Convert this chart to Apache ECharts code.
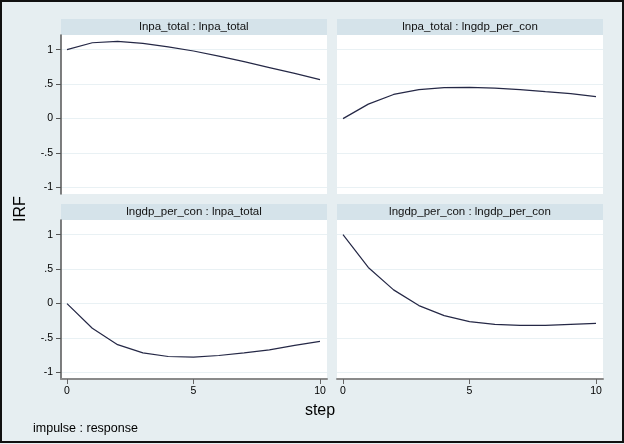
<!DOCTYPE html>
<html>
<head>
<meta charset="utf-8">
<title>IRF</title>
<script src="https://cdn.jsdelivr.net/npm/echarts@6/dist/echarts.min.js"></script>
<style>
	html, body { margin:0 ; padding:0 ; background:#e6eef1 ; }
	#main { width:624px ; height:444px ; }
</style>
</head>
<body>
<div id="main"></div>
<script>
// steps and impulse-response values
var steps = [0, 1, 2, 3, 4, 5, 6, 7, 8, 9, 10] ;
var irfPaPa   = [1.00, 1.10, 1.12, 1.09, 1.04, 0.98, 0.905, 0.825, 0.74, 0.655, 0.565] ;
var irfPaGdp  = [0.00, 0.21, 0.35, 0.42, 0.448, 0.452, 0.443, 0.42, 0.39, 0.362, 0.32] ;
var irfGdpPa  = [0.00, -0.357, -0.595, -0.714, -0.767, -0.776, -0.752, -0.714, -0.671, -0.605, -0.548] ;
var irfGdpGdp = [1.00, 0.524, 0.199, -0.029, -0.175, -0.262, -0.301, -0.316, -0.316, -0.301, -0.286] ;

var panelTitles = ['lnpa_total : lnpa_total', 'lnpa_total : lngdp_per_con',
                   'lngdp_per_con : lnpa_total', 'lngdp_per_con : lngdp_per_con'] ;
var panelValues = [irfPaPa, irfPaGdp, irfGdpPa, irfGdpGdp] ;

var yTickValues = [-1, -0.5, 0, 0.5, 1] ;
var yTickLabels = ['-1', '-.5', '0', '.5', '1'] ;
var xTickValues = [0, 5, 10] ;
var xTickLabels = ['0', '5', '10'] ;

var FONT = '"Liberation Sans", Arial, sans-serif' ;
var LINE_COLOR = '#252846' ;
var STRIP_COLOR = '#d5e3ea' ;
var GRIDLINE_COLOR = '#e9f1f4' ;

// panel boxes: left, top (plot area), strip sits 16px above
var panelLeft = [61, 337, 61, 337] ;
var panelTop  = [35, 35, 220, 220] ;
var PANEL_W = 266 ;
var PANEL_H = 159 ;
var STRIP_H = 16 ;

function pairs(values)
{
	var out = [] ;
	for( var i = 0 ; i < steps.length ; i++ )
	{
		out.push([steps[i], values[i]]) ;
	}
	return out ;
}

function initPage()
{
	var grids = [] ;
	var xAxes = [] ;
	var yAxes = [] ;
	var series = [] ;
	var graphics = [] ;

	for( var i = 0 ; i < 4 ; i++ )
	{
		var isLeft = ( i % 2 == 0 ) ;
		var isBottom = ( i >= 2 ) ;

		grids.push({
			left : panelLeft[i] ,
			top : panelTop[i] ,
			width : PANEL_W ,
			height : PANEL_H ,
			show : true ,
			backgroundColor : '#ffffff' ,
			borderWidth : 0
		}) ;

		xAxes.push({
			type : 'value' ,
			gridIndex : i ,
			min : -0.237 ,
			max : 10.277 ,
			axisLine : { show : isBottom , onZero : false , lineStyle : { color : '#8a8a8a' , width : 2 } } ,
			axisTick : { show : isBottom , length : 5 , lineStyle : { color : '#666' } , customValues : xTickValues } ,
			axisLabel : {
				show : isBottom ,
				customValues : xTickValues ,
				margin : 7 ,
				color : '#000' ,
				fontSize : 10.5 ,
				fontFamily : FONT ,
				formatter : function (v) { return xTickLabels[xTickValues.indexOf(v)] ; }
			} ,
			splitLine : { show : false }
		}) ;

		yAxes.push({
			type : 'value' ,
			gridIndex : i ,
			min : -1.093 ,
			max : 1.212 ,
			axisLine : { show : isLeft , onZero : false , lineStyle : { color : '#555' , width : 1.5 } } ,
			axisTick : { show : isLeft , length : 5 , lineStyle : { color : '#555' } , customValues : yTickValues } ,
			axisLabel : {
				show : isLeft ,
				customValues : yTickValues ,
				margin : 8 ,
				color : '#000' ,
				fontSize : 10.5 ,
				fontFamily : FONT ,
				formatter : function (v) { return yTickLabels[yTickValues.indexOf(v)] ; }
			} ,
			splitLine : { show : true , lineStyle : { color : GRIDLINE_COLOR , width : 1 } }
		}) ;

		series.push({
			name : panelTitles[i] ,
			type : 'line' ,
			xAxisIndex : i ,
			yAxisIndex : i ,
			data : pairs(panelValues[i]) ,
			showSymbol : false ,
			smooth : false ,
			animation : false ,
			lineStyle : { color : LINE_COLOR , width : 1.2 }
		}) ;

		// subtitle strip over each panel
		graphics.push({
			type : 'rect' ,
			shape : { x : panelLeft[i] , y : panelTop[i] - STRIP_H , width : PANEL_W , height : STRIP_H } ,
			style : { fill : STRIP_COLOR }
		}) ;
		graphics.push({
			type : 'text' ,
			x : panelLeft[i] + PANEL_W / 2 ,
			y : panelTop[i] - STRIP_H / 2 ,
			style : {
				text : panelTitles[i] ,
				fill : '#111' ,
				font : '11.5px ' + FONT ,
				textAlign : 'center' ,
				textVerticalAlign : 'middle'
			}
		}) ;
	}

	graphics.push({
		type : 'text' ,
		x : 21 ,
		y : 209 ,
		rotation : Math.PI / 2 ,
		style : { text : 'IRF' , fill : '#000' , font : '16px ' + FONT , textAlign : 'center' , textVerticalAlign : 'middle' }
	}) ;
	graphics.push({
		type : 'text' ,
		x : 320 ,
		y : 411 ,
		style : { text : 'step' , fill : '#000' , font : '16px ' + FONT , textAlign : 'center' , textVerticalAlign : 'middle' }
	}) ;
	graphics.push({
		type : 'text' ,
		x : 33 ,
		y : 429 ,
		style : { text : 'impulse : response' , fill : '#000' , font : '12.5px ' + FONT , textAlign : 'left' , textVerticalAlign : 'middle' }
	}) ;
	// outer frame
	graphics.push({
		type : 'rect' ,
		shape : { x : 1 , y : 1 , width : 622 , height : 441 } ,
		style : { fill : null , stroke : '#111' , lineWidth : 2 } ,
		z : 100
	}) ;

	var option = {
		backgroundColor : '#e6eef1' ,
		animation : false ,
		grid : grids ,
		xAxis : xAxes ,
		yAxis : yAxes ,
		series : series ,
		graphic : graphics
	} ;

	var myChart = echarts.init( document.getElementById('main') ) ;
	myChart.setOption(option) ;
}

initPage() ;
</script>
</body>
</html>
